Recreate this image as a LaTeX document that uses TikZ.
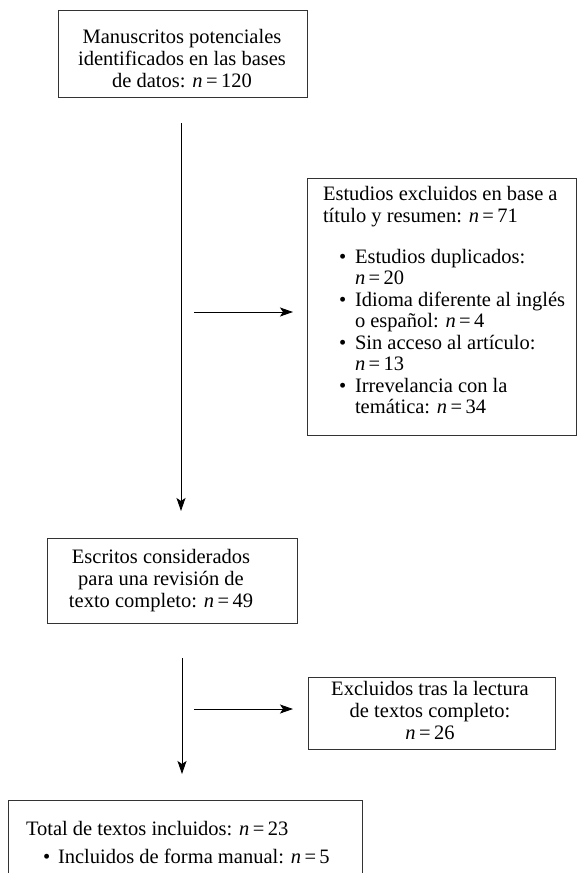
\documentclass[tikz,border=0pt]{standalone}
\usepackage{fontspec}
\setmainfont{Liberation Serif}
\usetikzlibrary{arrows.meta}
\newcommand{\nn}[1]{\textit{n}\,=\,#1}
\begin{document}
\begin{tikzpicture}[x=1pt,y=-1pt,
  box/.style={draw=black!80, line width=0.9pt, inner sep=0pt, outer sep=0pt},
  txt/.style={font=\fontsize{20.5}{22}\selectfont, inner sep=0pt, outer sep=0pt, anchor=base},
  txl/.style={txt, anchor=base west},
  arr/.style={line width=0.9pt, -{Stealth[length=13pt,width=9pt,inset=3pt]}}]
\clip (0,0) rectangle (578,873);
\fill[white] (0,0) rectangle (578,873);
% boxes
\node[box, minimum width=249pt, minimum height=87pt] (b1) at (182.5,53.5) {};
\node[box, minimum width=269pt, minimum height=257pt] (b2) at (441.5,306.5) {};
\node[box, minimum width=250pt, minimum height=85pt] (b3) at (172,580.5) {};
\node[box, minimum width=247pt, minimum height=72pt] (b4) at (431.5,713) {};
\node[box, minimum width=354pt, minimum height=120pt] (b5) at (185,860) {};
% box 1 text
\node[txt] (t11) at (182,43) {Manuscritos potenciales};
\node[txt] (t12) at (182,65) {identificados en las bases};
\node[txt] (t13) at (182,87) {de datos: \nn{120}};
% box 2 text
\node[txl] (t21) at (323,200) {Estudios excluidos en base a};
\node[txl] (t22) at (323,222) {título y resumen: \nn{71}};
\node[txl] (p1) at (339,263) {\textbullet};
\node[txl] (t23) at (355,263) {Estudios duplicados:};
\node[txl] (t24) at (355,284.5) {\nn{20}};
\node[txl] (p2) at (339,306) {\textbullet};
\node[txl] (t25) at (355,306) {Idioma diferente al inglés};
\node[txl] (t26) at (355,327.5) {o español: \nn{4}};
\node[txl] (p3) at (339,349) {\textbullet};
\node[txl] (t27) at (355,349) {Sin acceso al artículo:};
\node[txl] (t28) at (355,370.5) {\nn{13}};
\node[txl] (p4) at (339,392) {\textbullet};
\node[txl] (t29) at (355,392) {Irrevelancia con la};
\node[txl] (t210) at (355,413.5) {temática: \nn{34}};
% box 3 text
\node[txt] (t31) at (161,563) {Escritos considerados};
\node[txt] (t32) at (161,585) {para una revisión de};
\node[txt] (t33) at (161,607) {texto completo: \nn{49}};
% box 4 text
\node[txt] (t41) at (430,695) {Excluidos tras la lectura};
\node[txt] (t42) at (430,717) {de textos completo:};
\node[txt] (t43) at (430,739) {\nn{26}};
% box 5 text
\node[txl] (t51) at (26,835) {Total de textos incluidos: \nn{23}};
\node[txl] (p5) at (43,863) {\textbullet};
\node[txl] (t52) at (58,863) {Incluidos de forma manual: \nn{5}};
% arrows
\coordinate (a1s) at (181,123);
\coordinate (a1e) at (181,511);
\coordinate (h1s) at (194,312);
\coordinate (h1e) at (293,312);
\coordinate (a2s) at (182,658);
\coordinate (a2e) at (182,774);
\coordinate (h2s) at (194,709);
\coordinate (h2e) at (293,709);
\draw[arr] (a1s) -- (a1e);
\draw[arr] (h1s) -- (h1e);
\draw[arr] (a2s) -- (a2e);
\draw[arr] (h2s) -- (h2e);
\end{tikzpicture}
\end{document}
